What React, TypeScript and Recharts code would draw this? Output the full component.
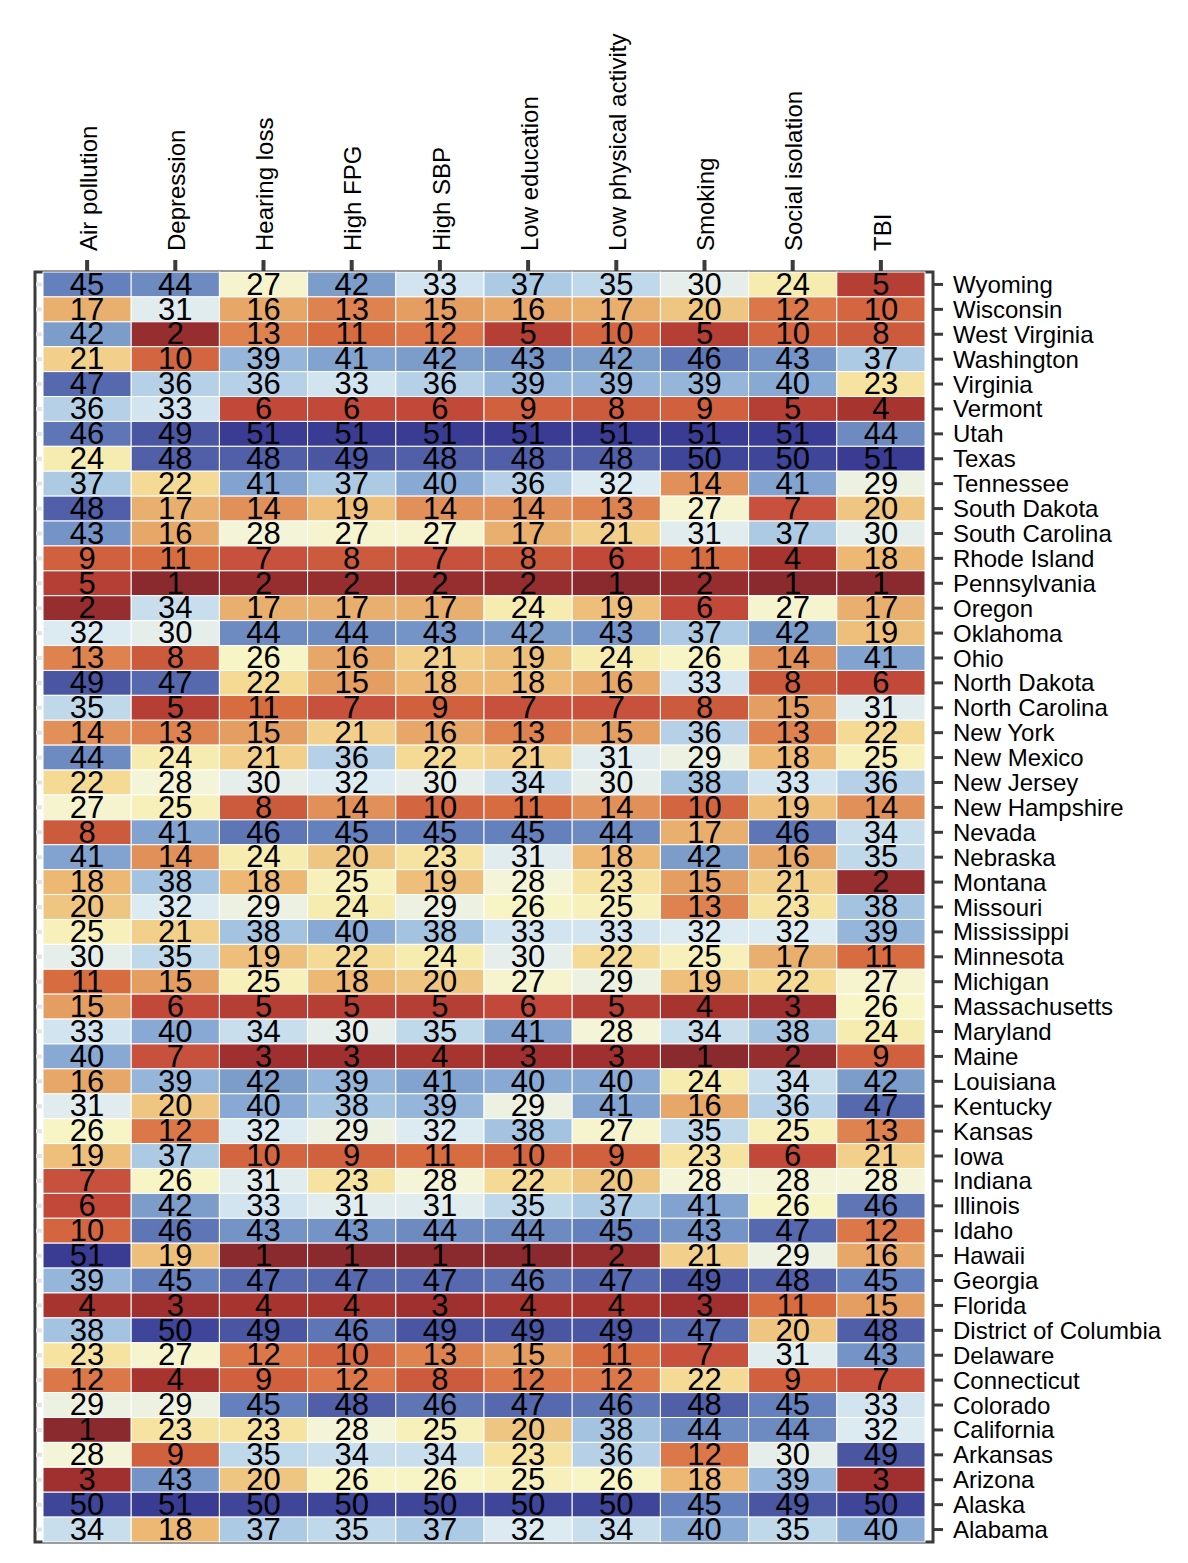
import { Customized, Scatter, ScatterChart, XAxis, YAxis } from "recharts";

// states top to bottom, as drawn
const STATES = [
  "Wyoming", "Wisconsin", "West Virginia", "Washington", "Virginia", "Vermont", "Utah", "Texas",
  "Tennessee", "South Dakota", "South Carolina", "Rhode Island", "Pennsylvania", "Oregon", "Oklahoma",
  "Ohio", "North Dakota", "North Carolina", "New York", "New Mexico", "New Jersey", "New Hampshire",
  "Nevada", "Nebraska", "Montana", "Missouri", "Mississippi", "Minnesota", "Michigan", "Massachusetts",
  "Maryland", "Maine", "Louisiana", "Kentucky", "Kansas", "Iowa", "Indiana", "Illinois", "Idaho",
  "Hawaii", "Georgia", "Florida", "District of Columbia", "Delaware", "Connecticut", "Colorado",
  "California", "Arkansas", "Arizona", "Alaska", "Alabama",
];

const RISK_FACTORS = [
  "Air pollution", "Depression", "Hearing loss", "High FPG", "High SBP",
  "Low education", "Low physical activity", "Smoking", "Social isolation", "TBI",
];

// ranks, one array per risk factor, same order as STATES
const AIR_POLLUTION = [45, 17, 42, 21, 47, 36, 46, 24, 37, 48, 43, 9, 5, 2, 32, 13, 49, 35, 14, 44, 22, 27, 8, 41, 18, 20, 25, 30, 11, 15, 33, 40, 16, 31, 26, 19, 7, 6, 10, 51, 39, 4, 38, 23, 12, 29, 1, 28, 3, 50, 34];
const DEPRESSION = [44, 31, 2, 10, 36, 33, 49, 48, 22, 17, 16, 11, 1, 34, 30, 8, 47, 5, 13, 24, 28, 25, 41, 14, 38, 32, 21, 35, 15, 6, 40, 7, 39, 20, 12, 37, 26, 42, 46, 19, 45, 3, 50, 27, 4, 29, 23, 9, 43, 51, 18];
const HEARING_LOSS = [27, 16, 13, 39, 36, 6, 51, 48, 41, 14, 28, 7, 2, 17, 44, 26, 22, 11, 15, 21, 30, 8, 46, 24, 18, 29, 38, 19, 25, 5, 34, 3, 42, 40, 32, 10, 31, 33, 43, 1, 47, 4, 49, 12, 9, 45, 23, 35, 20, 50, 37];
const HIGH_FPG = [42, 13, 11, 41, 33, 6, 51, 49, 37, 19, 27, 8, 2, 17, 44, 16, 15, 7, 21, 36, 32, 14, 45, 20, 25, 24, 40, 22, 18, 5, 30, 3, 39, 38, 29, 9, 23, 31, 43, 1, 47, 4, 46, 10, 12, 48, 28, 34, 26, 50, 35];
const HIGH_SBP = [33, 15, 12, 42, 36, 6, 51, 48, 40, 14, 27, 7, 2, 17, 43, 21, 18, 9, 16, 22, 30, 10, 45, 23, 19, 29, 38, 24, 20, 5, 35, 4, 41, 39, 32, 11, 28, 31, 44, 1, 47, 3, 49, 13, 8, 46, 25, 34, 26, 50, 37];
const LOW_EDUCATION = [37, 16, 5, 43, 39, 9, 51, 48, 36, 14, 17, 8, 2, 24, 42, 19, 18, 7, 13, 21, 34, 11, 45, 31, 28, 26, 33, 30, 27, 6, 41, 3, 40, 29, 38, 10, 22, 35, 44, 1, 46, 4, 49, 15, 12, 47, 20, 23, 25, 50, 32];
const LOW_PHYSICAL_ACTIVITY = [35, 17, 10, 42, 39, 8, 51, 48, 32, 13, 21, 6, 1, 19, 43, 24, 16, 7, 15, 31, 30, 14, 44, 18, 23, 25, 33, 22, 29, 5, 28, 3, 40, 41, 27, 9, 20, 37, 45, 2, 47, 4, 49, 11, 12, 46, 38, 36, 26, 50, 34];
const SMOKING = [30, 20, 5, 46, 39, 9, 51, 50, 14, 27, 31, 11, 2, 6, 37, 26, 33, 8, 36, 29, 38, 10, 17, 42, 15, 13, 32, 25, 19, 4, 34, 1, 24, 16, 35, 23, 28, 41, 43, 21, 49, 3, 47, 7, 22, 48, 44, 12, 18, 45, 40];
const SOCIAL_ISOLATION = [24, 12, 10, 43, 40, 5, 51, 50, 41, 7, 37, 4, 1, 27, 42, 14, 8, 15, 13, 18, 33, 19, 46, 16, 21, 23, 32, 17, 22, 3, 38, 2, 34, 36, 25, 6, 28, 26, 47, 29, 48, 11, 20, 31, 9, 45, 44, 30, 39, 49, 35];
const TBI = [5, 10, 8, 37, 23, 4, 44, 51, 29, 20, 30, 18, 1, 17, 19, 41, 6, 31, 22, 25, 36, 14, 34, 35, 2, 38, 39, 11, 27, 26, 24, 9, 42, 47, 13, 21, 28, 46, 12, 16, 45, 15, 48, 43, 7, 33, 32, 49, 3, 50, 40];

const SERIES = [
  AIR_POLLUTION, DEPRESSION, HEARING_LOSS, HIGH_FPG, HIGH_SBP,
  LOW_EDUCATION, LOW_PHYSICAL_ACTIVITY, SMOKING, SOCIAL_ISOLATION, TBI,
];

const cells = STATES.flatMap((state, i) =>
  RISK_FACTORS.map((factor, j) => ({ factor, state, rank: SERIES[j][i] }))
);

// muted RdYlBu, rank 1 = red, rank 51 = blue
const COLOR_STOPS: [number, string][] = [
  [1, "#8b2a2e"], [3, "#a02f2f"], [4, "#a8342f"], [6, "#c2483a"], [8, "#cc5a3d"],
  [11, "#d76c41"], [13, "#de8250"], [15, "#e49e62"], [18, "#ecb874"], [20, "#efc681"],
  [22, "#f4da94"], [24, "#f7ecb0"], [26, "#f7f4c6"], [28, "#f3f4d8"], [30, "#e6eeec"],
  [32, "#dceaf2"], [35, "#bfd8ea"], [38, "#a3c3e0"], [40, "#87a9d3"], [42, "#7c9cca"],
  [45, "#6581bd"], [47, "#5668ae"], [49, "#4a56a2"], [50, "#3f4599"], [51, "#3a3c93"],
];

function hexToRgb(h: string) {
  return [1, 3, 5].map((k) => parseInt(h.slice(k, k + 2), 16));
}

function rankColor(v: number) {
  for (let k = 1; k < COLOR_STOPS.length; k++) {
    const [v1, c1] = COLOR_STOPS[k];
    if (v <= v1) {
      const [v0, c0] = COLOR_STOPS[k - 1];
      const t = (v - v0) / (v1 - v0);
      const a = hexToRgb(c0);
      const b = hexToRgb(c1);
      const rgb = a.map((x, n) => Math.round(x + (b[n] - x) * t));
      return `rgb(${rgb.join(",")})`;
    }
  }
  return COLOR_STOPS[COLOR_STOPS.length - 1][1];
}

const FONT = "'Liberation Sans', Arial, Helvetica, sans-serif";
const AXIS_DARK = "#3b3b3b";

const CHART_W = 1172;
const CHART_H = 1552;
const PLOT_LEFT = 27;
const PLOT_TOP = 264;
const PLOT_W = 898;
const PLOT_H = 1270;
const PAD_X = 8;
const CELL_W = (PLOT_W - 2 * PAD_X) / RISK_FACTORS.length;
const CELL_H = PLOT_H / STATES.length;

function CellRect(props: any) {
  const { cx, cy, payload } = props;
  const left = cx - CELL_W / 2;
  return (
    <g>
      <rect
        x={left}
        y={cy - CELL_H / 2}
        width={CELL_W}
        height={CELL_H}
        fill={rankColor(payload.rank)}
        stroke="#ffffff"
        strokeWidth={1}
      />
      {payload.factor === RISK_FACTORS[0] && (
        <line x1={left - 7} x2={left - 1} y1={cy} y2={cy} stroke="#e4e4e4" strokeWidth={4} />
      )}
    </g>
  );
}

function CellLabel(props: any) {
  const { cx, cy, payload } = props;
  return (
    <text
      x={cx}
      y={cy}
      dy="0.33em"
      textAnchor="middle"
      fontSize={31}
      fontFamily={FONT}
      fill="#000000"
    >
      {payload.rank}
    </text>
  );
}

function TopTick(props: any) {
  const { x, y, payload } = props;
  return (
    <g transform={`translate(${x},${y})`}>
      <text
        transform="rotate(-90)"
        textAnchor="start"
        dy="0.4em"
        fontSize={24}
        fontFamily={FONT}
        fill="#000000"
      >
        {payload.value}
      </text>
    </g>
  );
}

function Frame() {
  return (
    <rect
      x={PLOT_LEFT}
      y={PLOT_TOP}
      width={PLOT_W}
      height={PLOT_H}
      fill="none"
      stroke={AXIS_DARK}
      strokeWidth={3}
    />
  );
}

export default function App() {
  return (
    <div style={{ width: CHART_W, height: CHART_H, background: "#ffffff" }}>
      <ScatterChart
        width={CHART_W}
        height={CHART_H}
        margin={{ top: 0, right: 0, bottom: CHART_H - PLOT_TOP - PLOT_H, left: PLOT_LEFT }}
      >
        <XAxis
          type="category"
          dataKey="factor"
          orientation="top"
          allowDuplicatedCategory={false}
          height={PLOT_TOP}
          padding={{ left: PAD_X, right: PAD_X }}
          axisLine={false}
          tickSize={12}
          tickMargin={9}
          tickLine={{ stroke: AXIS_DARK, strokeWidth: 4 }}
          tick={<TopTick />}
          interval={0}
        />
        <YAxis
          type="category"
          dataKey="state"
          orientation="right"
          allowDuplicatedCategory={false}
          reversed
          width={CHART_W - PLOT_LEFT - PLOT_W}
          axisLine={false}
          tickSize={10}
          tickMargin={10}
          tickLine={{ stroke: AXIS_DARK, strokeWidth: 3 }}
          tick={{ fontSize: 24, fontFamily: FONT, fill: "#000000" }}
          interval={0}
        />
        <Scatter data={cells} shape={<CellRect />} isAnimationActive={false} />
        <Scatter data={cells} shape={<CellLabel />} isAnimationActive={false} />
        <Customized component={<Frame />} />
      </ScatterChart>
    </div>
  );
}
